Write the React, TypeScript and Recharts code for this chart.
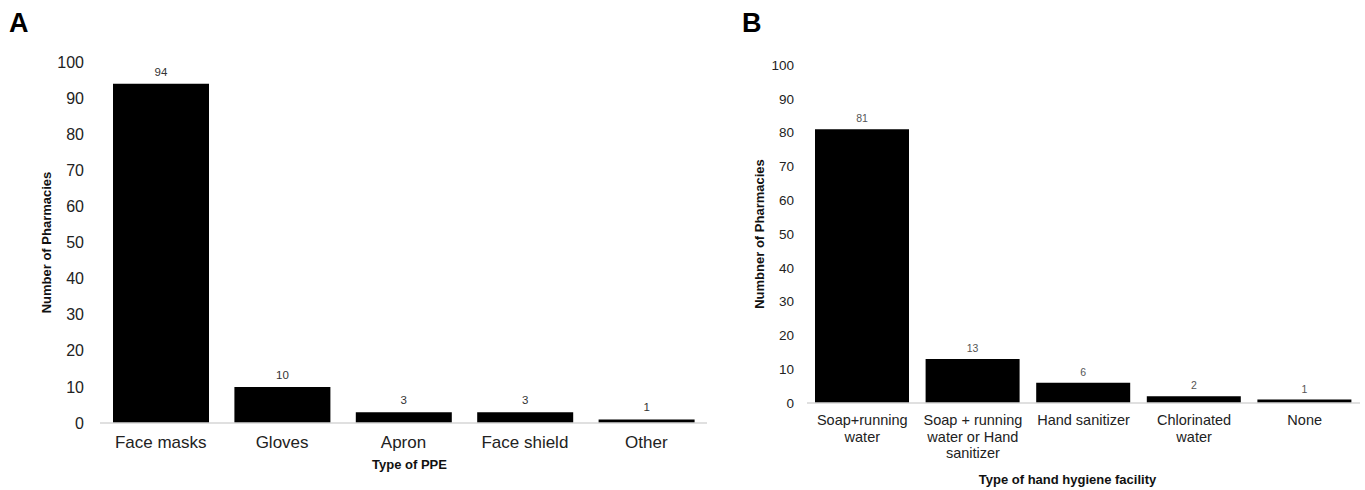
import { BarChart, Bar, XAxis, YAxis, LabelList } from 'recharts';

const ppeTypes = ['Face masks', 'Gloves', 'Apron', 'Face shield', 'Other'];
const ppeCounts = [94, 10, 3, 3, 1];

const hygieneTypes = [
  'Soap+running\nwater',
  'Soap + running\nwater or Hand\nsanitizer',
  'Hand sanitizer',
  'Chlorinated\nwater',
  'None',
];
const hygieneCounts = [81, 13, 6, 2, 1];

const yTicks = [0, 10, 20, 30, 40, 50, 60, 70, 80, 90, 100];

const FONT = '"Liberation Sans", Arial, sans-serif';
const AXIS_LINE = { stroke: '#d6d6d6', strokeWidth: 1.5 };

const ppeData = ppeTypes.map((name, i) => ({ name, value: ppeCounts[i] }));
const hygieneData = hygieneTypes.map((name, i) => ({ name, value: hygieneCounts[i] }));

// multi-line category tick, lines split on \n
function CatTick(props: any) {
  const { x, y, payload, fontSize, lineHeight, baseline } = props;
  const lines = String(payload.value).split('\n');
  return (
    <text x={x} y={y + baseline} textAnchor="middle" fontSize={fontSize} fill="#222" fontFamily={FONT}>
      {lines.map((l: string, i: number) => (
        <tspan key={i} x={x} dy={i === 0 ? 0 : lineHeight}>{l}</tspan>
      ))}
    </text>
  );
}

export default function App() {
  return (
    <div style={{ position: 'relative', width: 1365, height: 490, background: '#fff', fontFamily: FONT }}>
      <style>{'body{margin:0}'}</style>
      <div style={{ position: 'absolute', left: 9, top: 7, fontSize: 27, fontWeight: 700, lineHeight: '32px' }}>A</div>
      <div style={{ position: 'absolute', left: 742, top: 7, fontSize: 27, fontWeight: 700, lineHeight: '32px' }}>B</div>

      <div style={{ position: 'absolute', left: 0, top: 0 }}>
        <BarChart width={740} height={490} data={ppeData} margin={{ top: 62, right: 33, left: 40, bottom: 17 }}>
          <XAxis
            dataKey="name"
            height={50}
            axisLine={AXIS_LINE}
            tickLine={false}
            tickSize={0}
            tickMargin={0}
            interval={0}
            tick={(p: any) => <CatTick {...p} fontSize={17} lineHeight={17} baseline={25} />}
            label={{ value: 'Type of PPE', position: 'insideBottom', offset: 4, dx: 6, fontSize: 13, fontWeight: 700, fill: '#111', fontFamily: FONT }}
          />
          <YAxis
            width={60}
            domain={[0, 100]}
            ticks={yTicks}
            axisLine={false}
            tickLine={false}
            tickSize={0}
            tickMargin={16}
            tick={{ fontSize: 16, fill: '#222', fontFamily: FONT }}
            label={{ value: 'Number of Pharmacies', angle: -90, position: 'center', dx: -24, fontSize: 13, fontWeight: 700, fill: '#111', fontFamily: FONT }}
          />
          <Bar dataKey="value" fill="#000" barSize={96} isAnimationActive={false}>
            <LabelList dataKey="value" position="top" offset={8} fontSize={11.5} fill="#333" fontFamily={FONT} />
          </Bar>
        </BarChart>
      </div>

      <div style={{ position: 'absolute', left: 740, top: 0 }}>
        <BarChart width={625} height={490} data={hygieneData} margin={{ top: 65, right: 5, left: 17, bottom: 3 }}>
          <XAxis
            dataKey="name"
            height={84}
            axisLine={AXIS_LINE}
            tickLine={false}
            tickSize={0}
            tickMargin={0}
            interval={0}
            tick={(p: any) => <CatTick {...p} fontSize={14.5} lineHeight={16.5} baseline={22} />}
            label={{ value: 'Type of hand hygiene facility', position: 'insideBottom', offset: 3, dx: -16, fontSize: 13, fontWeight: 700, fill: '#111', fontFamily: FONT }}
          />
          <YAxis
            width={50}
            domain={[0, 100]}
            ticks={yTicks}
            axisLine={false}
            tickLine={false}
            tickSize={0}
            tickMargin={13}
            tick={{ fontSize: 13.5, fill: '#222', fontFamily: FONT }}
            label={{ value: 'Numbner of Pharmacies', angle: -90, position: 'center', dx: -23, fontSize: 13, fontWeight: 700, fill: '#111', fontFamily: FONT }}
          />
          <Bar dataKey="value" fill="#000" barSize={94} isAnimationActive={false}>
            <LabelList dataKey="value" position="top" offset={7} fontSize={10.5} fill="#555" fontFamily={FONT} />
          </Bar>
        </BarChart>
      </div>
    </div>
  );
}
